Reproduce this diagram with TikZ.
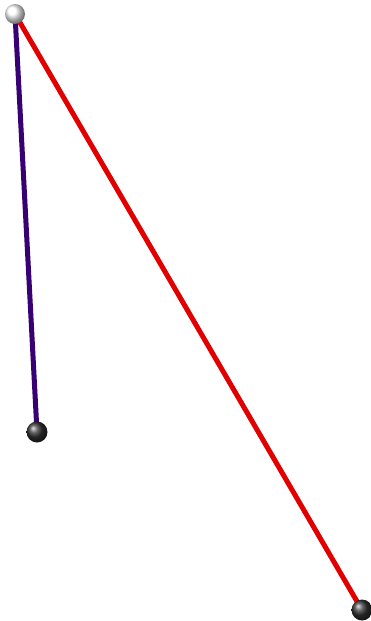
\documentclass[tikz,border=0pt]{standalone}
\begin{document}
\begin{tikzpicture}[x=1pt,y=-1pt,
  rod/.style={line width=5pt},
  wball/.style={circle,minimum size=20pt,inner sep=0pt,ball color=white,shading=ball},
  bball/.style={circle,minimum size=21pt,inner sep=0pt,ball color=black!80,shading=ball}]
\definecolor{rodpurple}{RGB}{55,0,115}
\definecolor{rodred}{RGB}{225,0,0}
\useasboundingbox (0,0) rectangle (370,621);
\coordinate (p) at (15,14);
\coordinate (a) at (37,432);
\coordinate (b) at (362,610);
\draw[rod,rodpurple] (p) -- (a);
\draw[rod,rodred] (p) -- (b);
\node[bball] (ba) at (a) {};
\node[bball] (bb) at (b) {};
\node[wball] (pv) at (p) {};
\end{tikzpicture}
\end{document}
